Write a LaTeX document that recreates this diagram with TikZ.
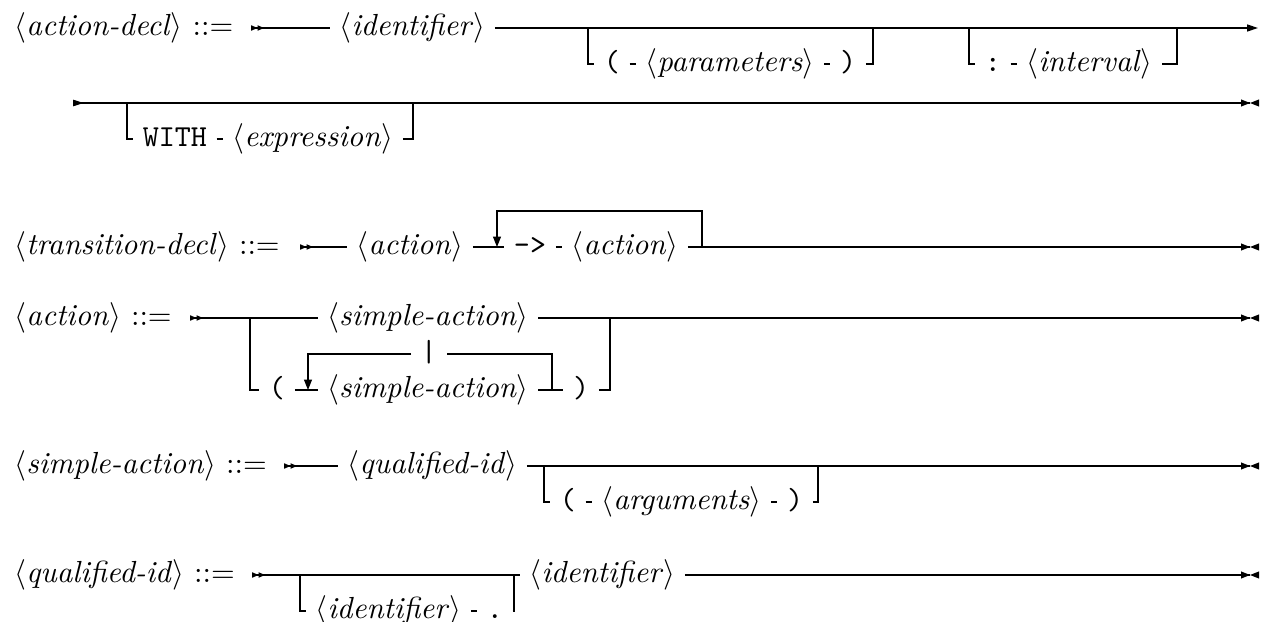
\documentclass[tikz,border=0pt]{standalone}
\usepackage{fontspec}
\usetikzlibrary{positioning,arrows.meta}

% nonterminal: italic name in angle brackets
\newcommand\ntm[1]{$\langle$\textit{#1}$\rangle$}

\tikzset{
  ntbox/.style={inner xsep=3pt, inner ysep=0pt, text height=7.5pt, text depth=2.5pt},
  tbox/.style={ntbox, font=\ttfamily},
  lbl/.style={inner sep=0pt, text height=7.5pt, text depth=2.5pt, anchor=west},
  loopend/.style={-{Triangle[length=3.4pt,width=2.6pt]}},
  contend/.style={-{Triangle[length=3.6pt,width=2.3pt]}},
  startmark/.pic={
    \fill (0,-2.8) -- (6.5,0) -- (0,2.8) -- cycle;
    \fill (6.5,-2.8) -- (13,0) -- (6.5,2.8) -- cycle;
  },
  contmark/.pic={
    \fill (0,-3.4) -- (10.5,0) -- (0,3.4) -- cycle;
  },
  endmark/.pic={
    \fill (-9,-3.6) -- (0,0) -- (-9,3.6) -- cycle;
    \fill (9,-3.6) -- (0,0) -- (9,3.6) -- cycle;
  }
}

\begin{document}
\begin{tikzpicture}[x=0.32787pt, y=-0.32787pt, line width=0.4pt]
\useasboundingbox (0,0) rectangle (1262,622);

% ---------- action-decl (first line) ----------
\node[lbl] (L1) at (14,28) {\ntm{action-decl} $::=$};
\coordinate (S1) at (251,28);
\pic at (S1) {startmark};
\node[ntbox, anchor=west] (id1) at (330,28) {\ntm{identifier}};
\coordinate (a1) at (588,28);
\coordinate (a2) at (873,28);
\coordinate (b1) at (969,28);
\coordinate (b2) at (1177,28);
\coordinate (E1) at (1258,28);
\draw (S1) -- (id1);
\draw[contend] (id1) -- (E1);
% optional parameter list
\node[tbox, anchor=west] (lp1) at (594,64) {(};
\node[ntbox, right=2pt of lp1] (par) {\ntm{parameters}};
\node[tbox, right=2pt of par] (rp1) {)};
\draw (a1) |- (lp1);
\draw (lp1) -- (par);
\draw (par) -- (rp1);
\draw (rp1) -| (a2);
% optional interval
\node[tbox, anchor=west] (col) at (975,64) {:};
\node[ntbox, right=2pt of col] (intv) {\ntm{interval}};
\draw (b1) |- (col);
\draw (col) -- (intv);
\draw (intv) -| (b2);

% ---------- action-decl (continuation) ----------
\coordinate (S2) at (73,103);
\pic at (S2) {contmark};
\coordinate (c1) at (127,103);
\coordinate (c2) at (413,103);
\coordinate (E2) at (1250,103);
\draw (S2) -- (E2);
\pic at (E2) {endmark};
\node[tbox, anchor=west] (with) at (133,139) {WITH};
\node[ntbox, right=2pt of with] (expr) {\ntm{expression}};
\draw (c1) |- (with);
\draw (with) -- (expr);
\draw (expr) -| (c2);

% ---------- transition-decl ----------
\node[lbl] (L3) at (14,247) {\ntm{transition-decl} $::=$};
\coordinate (S3) at (300,247);
\pic at (S3) {startmark};
\node[ntbox] (act1) at (410,247) {\ntm{action}};
\coordinate (d1) at (497,247);
\node[tbox] (arr) at (530,247) {->};
\node[ntbox] (act2) at (625,247) {\ntm{action}};
\coordinate (d2) at (702,247);
\coordinate (E3) at (1250,247);
\draw (S3) -- (act1);
\draw (act1) -- (arr);
\draw (arr) -- (act2);
\draw (act2) -- (E3);
\pic at (E3) {endmark};
\draw[loopend] (d2) -- ++(0,-36) -| (d1);

% ---------- action ----------
\node[lbl] (L4) at (14,318) {\ntm{action} $::=$};
\coordinate (S4) at (190,318);
\pic at (S4) {startmark};
\coordinate (f1) at (250,318);
\coordinate (f2) at (610,318);
\coordinate (E4) at (1250,318);
\node[ntbox] (sa1) at (428,318) {\ntm{simple-action}};
\draw (S4) -- (sa1);
\draw (sa1) -- (E4);
\pic at (E4) {endmark};
% parenthesised alternatives
\node[tbox] (lp2) at (277,390) {(};
\node[ntbox] (sa2) at (428,390) {\ntm{simple-action}};
\node[tbox] (rp2) at (581,390) {)};
\coordinate (g1) at (308,390);
\coordinate (g2) at (552,390);
\draw (f1) |- (lp2);
\draw (lp2) -- (sa2);
\draw (sa2) -- (rp2);
\draw (rp2) -| (f2);
\node[tbox] (bar) at (429,354) {|};
\draw (g2) |- (bar);
\draw[loopend] (bar) -| (g1);

% ---------- simple-action ----------
\node[lbl] (L5) at (14,466) {\ntm{simple-action} $::=$};
\coordinate (S5) at (284,466);
\pic at (S5) {startmark};
\node[ntbox, anchor=west] (qid) at (338,466) {\ntm{qualified-id}};
\coordinate (h1) at (544,466);
\coordinate (h2) at (818,466);
\coordinate (E5) at (1250,466);
\draw (S5) -- (qid);
\draw (qid) -- (E5);
\pic at (E5) {endmark};
\node[tbox, anchor=west] (lp3) at (550,502) {(};
\node[ntbox, right=2pt of lp3] (args) {\ntm{arguments}};
\node[tbox, right=2pt of args] (rp3) {)};
\draw (h1) |- (lp3);
\draw (lp3) -- (args);
\draw (args) -- (rp3);
\draw (rp3) -| (h2);

% ---------- qualified-id ----------
\node[lbl] (L6) at (14,575) {\ntm{qualified-id} $::=$};
\coordinate (S6) at (252,575);
\pic at (S6) {startmark};
\coordinate (k1) at (300,575);
\coordinate (k2) at (514,575);
\coordinate (E6) at (1250,575);
\node[ntbox, anchor=west] (id3) at (520,575) {\ntm{identifier}};
\draw (S6) -- (id3);
\draw (id3) -- (E6);
\pic at (E6) {endmark};
\node[ntbox, anchor=west] (id2) at (306,611) {\ntm{identifier}};
\node[tbox, right=2pt of id2] (dot) {.};
\draw (k1) |- (id2);
\draw (id2) -- (dot);
\draw (dot) -| (k2);
\end{tikzpicture}
\end{document}
